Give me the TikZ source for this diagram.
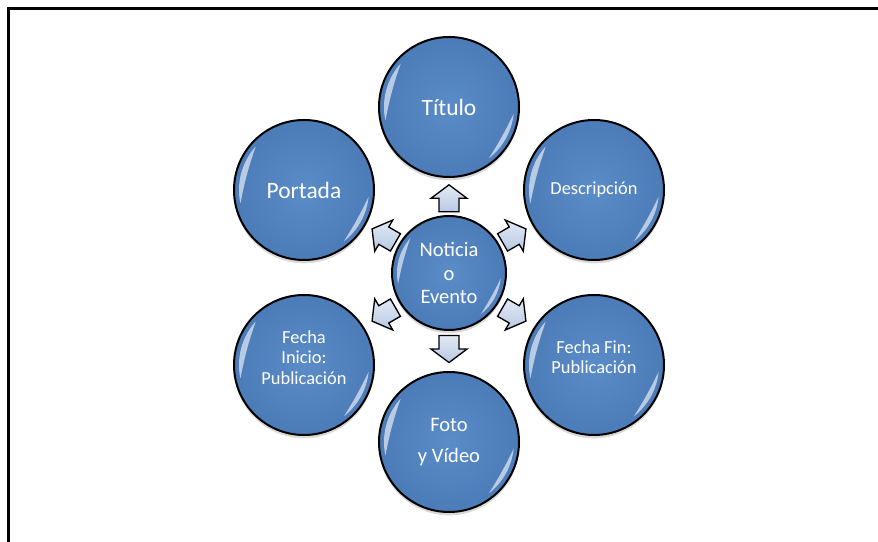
\documentclass[tikz,border=0pt]{standalone}
\usepackage{fontspec}
\setmainfont{Carlito}
\usetikzlibrary{calc, shadows}

\definecolor{bubbleblue}{RGB}{90,140,200}
\definecolor{bubbledark}{RGB}{76,124,184}
\definecolor{arrowblue}{RGB}{184,201,227}
\definecolor{arrowlight}{RGB}{226,233,244}

\begin{document}
\begin{tikzpicture}[x = 0.75pt, y = 0.75pt,
        bubble/.style = {circle, draw = black, line width = 1.5pt, minimum size = 105pt, inner sep = 0pt,
            inner color = bubbleblue, outer color = bubbledark, text = white, align = center,
            drop shadow = {shadow xshift = 0pt, shadow yshift = -2.5pt, opacity = 0.3}},
        hub/.style = {bubble, minimum size = 85.5pt},
        bigtext/.style = {font = \fontsize{17.6}{21}\selectfont},
        midtext/.style = {font = \fontsize{15.4}{17.3}\selectfont},
        smalltext/.style = {font = \fontsize{13.8}{15.4}\selectfont},
        gloss/.style = {white, fill opacity = 0.6},
        outarrow/.pic = {
            \draw[line width = 1pt, line join = miter, top color = arrowlight, bottom color = arrowblue]
                (-13.5, -10) -- (0, -10) -- (0, -18) -- (13.5, 0) -- (0, 18) -- (0, 10) -- (-13.5, 10) -- cycle;
        }]
    \useasboundingbox (0, 0) rectangle (878, 542);
    \draw[line width = 2.25pt] (8, 0) -- (8, 533) -- (878, 533);

    \node[hub, midtext] (centre) at (449, 269) {Noticia \\ o \\ Evento};
    \node[bubble, bigtext] (titulo) at (449, 435) {Título};
    \node[bubble, smalltext] (descripcion) at (594, 352) {Descripción};
    \node[bubble, smalltext, text depth = 11.6pt] (ffin) at (594, 177) {Fecha Fin: \\ Publicación};
    \node[bubble, midtext] (foto) at (449, 100) {Foto \\[6pt] y Vídeo};
    \node[bubble, smalltext, text depth = 11.6pt] (finicio) at (304, 177) {Fecha \\ Inicio: \\ Publicación};
    \node[bubble, bigtext] (portada) at (304, 352) {Portada};

    % glossy crescents, upper left and lower right
    \foreach \n/\r in {centre/52, titulo/65, descripcion/65, ffin/65, foto/65, finicio/65, portada/65} {
        \fill[gloss] ($(\n.center) + (138:\r)$) arc [start angle = 138, end angle = 192, radius = \r]
            to [bend left = 4] cycle;
        \fill[gloss] ($(\n.center) + (-6:\r)$) arc [start angle = -6, end angle = -52, radius = \r]
            to [bend right = 3] cycle;
    }

    \foreach \n/\a in {titulo/90, descripcion/30, ffin/-30, foto/-90, finicio/-150, portada/150}
        \pic[rotate = \a] at ($(centre)!0.45!(\n)$) {outarrow};
\end{tikzpicture}
\end{document}
